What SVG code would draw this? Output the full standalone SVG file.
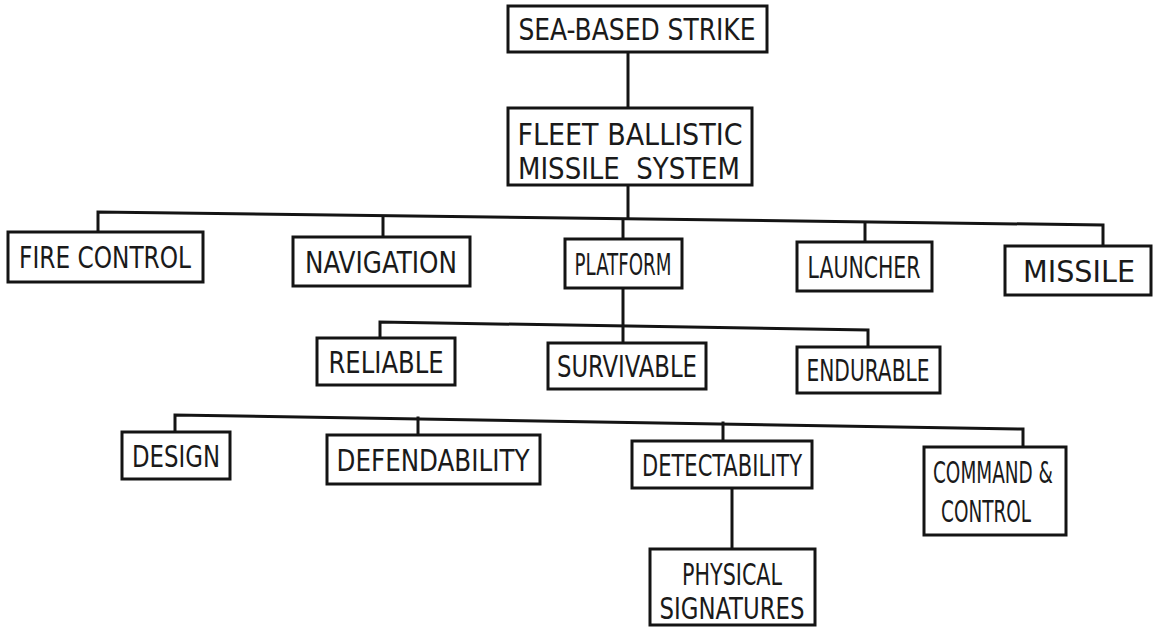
<svg xmlns="http://www.w3.org/2000/svg" width="1153" height="628" viewBox="0 0 1153 628">
  <style>
    .box { fill: #ffffff; stroke: #141414; stroke-width: 3; }
    .wire { fill: none; stroke: #141414; stroke-width: 3; stroke-linejoin: miter; }
    .lbl { font-family: "Liberation Sans Narrow", "DejaVu Sans Condensed", "Liberation Sans", sans-serif; font-size: 31px; fill: #1a1a1a; text-anchor: middle; white-space: pre; }
  </style>
  <rect width="1153" height="628" fill="#ffffff"/>

  <!-- connectors: trunk lines and the three slightly sloping bus bars -->
  <g id="connectors">
    <line class="wire" x1="628" y1="52" x2="628" y2="108"/>
    <line class="wire" x1="628" y1="185" x2="628" y2="219"/>
    <polyline class="wire" points="98,232 98,212 1103,225 1103,246"/>
    <line class="wire" x1="383" y1="215.5" x2="383" y2="237"/>
    <line class="wire" x1="623" y1="219" x2="623" y2="239"/>
    <line class="wire" x1="865" y1="222" x2="865" y2="242"/>
    <line class="wire" x1="623" y1="288" x2="623" y2="343"/>
    <polyline class="wire" points="380,338 380,322 868,330 868,347"/>
    <polyline class="wire" points="175,432 175,415 1023,429 1023,447"/>
    <line class="wire" x1="418" y1="416.5" x2="418" y2="435"/>
    <line class="wire" x1="723" y1="421.5" x2="723" y2="441"/>
    <line class="wire" x1="732" y1="488" x2="732" y2="549"/>
  </g>

  <g id="sea-based-strike">
    <rect class="box" x="508" y="6" width="259" height="46"/>
    <text class="lbl" x="637" y="40" textLength="237" lengthAdjust="spacingAndGlyphs">SEA-BASED STRIKE</text>
  </g>
  <g id="fleet-ballistic-missile-system">
    <rect class="box" x="508" y="108" width="244" height="77"/>
    <text class="lbl" x="630" y="145" textLength="225" lengthAdjust="spacingAndGlyphs">FLEET BALLISTIC</text>
    <text class="lbl" x="629" y="179" textLength="222" lengthAdjust="spacingAndGlyphs" xml:space="preserve">MISSILE  SYSTEM</text>
  </g>
  <g id="fire-control">
    <rect class="box" x="8" y="232" width="195" height="50"/>
    <text class="lbl" x="105" y="268" textLength="172" lengthAdjust="spacingAndGlyphs">FIRE CONTROL</text>
  </g>
  <g id="navigation">
    <rect class="box" x="293" y="237" width="177" height="49"/>
    <text class="lbl" x="381" y="272.5" textLength="152" lengthAdjust="spacingAndGlyphs">NAVIGATION</text>
  </g>
  <g id="platform">
    <rect class="box" x="565" y="239" width="117" height="49"/>
    <text class="lbl" x="623" y="274.5" textLength="97" lengthAdjust="spacingAndGlyphs">PLATFORM</text>
  </g>
  <g id="launcher">
    <rect class="box" x="797" y="242" width="135" height="49"/>
    <text class="lbl" x="864" y="277.5" textLength="113" lengthAdjust="spacingAndGlyphs">LAUNCHER</text>
  </g>
  <g id="missile">
    <rect class="box" x="1005" y="246" width="146" height="49"/>
    <text class="lbl" x="1079" y="281.5" textLength="112" lengthAdjust="spacingAndGlyphs">MISSILE</text>
  </g>
  <g id="reliable">
    <rect class="box" x="317" y="338" width="138" height="47"/>
    <text class="lbl" x="386" y="372.5" textLength="115" lengthAdjust="spacingAndGlyphs">RELIABLE</text>
  </g>
  <g id="survivable">
    <rect class="box" x="548" y="343" width="158" height="46"/>
    <text class="lbl" x="627" y="377" textLength="140" lengthAdjust="spacingAndGlyphs">SURVIVABLE</text>
  </g>
  <g id="endurable">
    <rect class="box" x="797" y="347" width="143" height="46"/>
    <text class="lbl" x="868" y="381" textLength="123" lengthAdjust="spacingAndGlyphs">ENDURABLE</text>
  </g>
  <g id="design">
    <rect class="box" x="122" y="432" width="108" height="47"/>
    <text class="lbl" x="176" y="466.5" textLength="88" lengthAdjust="spacingAndGlyphs">DESIGN</text>
  </g>
  <g id="defendability">
    <rect class="box" x="327" y="435" width="213" height="49"/>
    <text class="lbl" x="433" y="470.5" textLength="193" lengthAdjust="spacingAndGlyphs">DEFENDABILITY</text>
  </g>
  <g id="detectability">
    <rect class="box" x="632" y="441" width="180" height="47"/>
    <text class="lbl" x="722" y="475.5" textLength="160" lengthAdjust="spacingAndGlyphs">DETECTABILITY</text>
  </g>
  <g id="command-and-control">
    <rect class="box" x="924" y="447" width="142" height="88"/>
    <text class="lbl" x="993" y="483" textLength="120" lengthAdjust="spacingAndGlyphs">COMMAND &amp;</text>
    <text class="lbl" x="986" y="522" textLength="90" lengthAdjust="spacingAndGlyphs">CONTROL</text>
  </g>
  <g id="physical-signatures">
    <rect class="box" x="650" y="549" width="165" height="76"/>
    <text class="lbl" x="732" y="585" textLength="100" lengthAdjust="spacingAndGlyphs">PHYSICAL</text>
    <text class="lbl" x="732" y="619" textLength="145" lengthAdjust="spacingAndGlyphs">SIGNATURES</text>
  </g>
</svg>
